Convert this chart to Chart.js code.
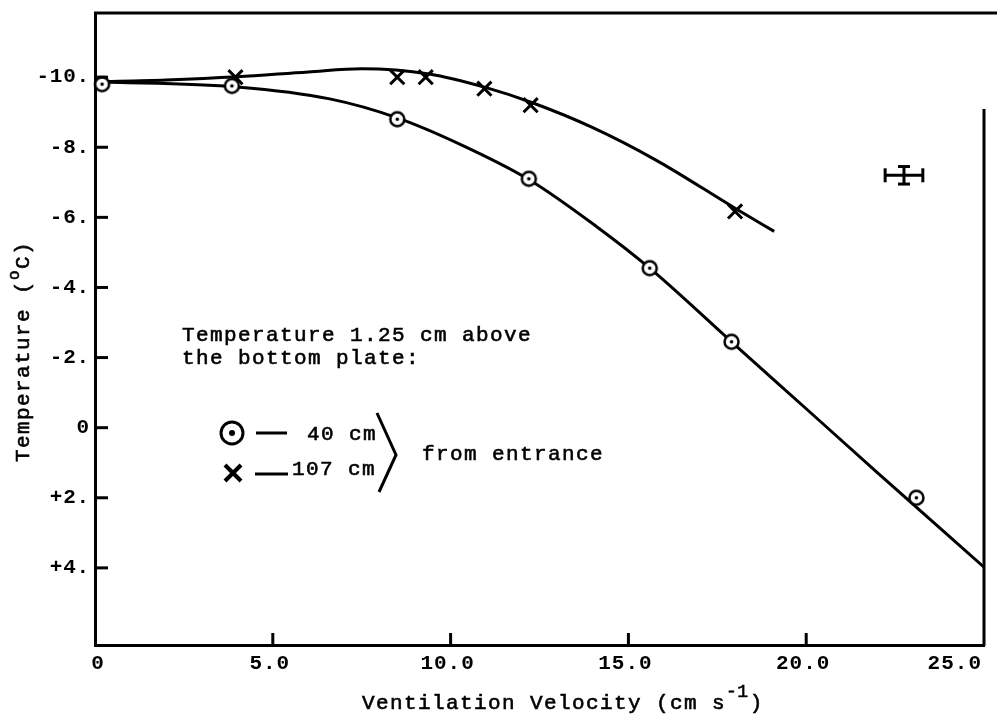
<!DOCTYPE html>
<html>
<head>
<meta charset="utf-8">
<script src="https://cdn.jsdelivr.net/npm/chart.js@4.4.1/dist/chart.umd.min.js"></script>
<style>
  html, body { margin: 0; padding: 0; background: #fff; }
</style>
</head>
<body>
<canvas id="Charts_Ventilation_Temperature" width="997" height="720"></canvas>
<script>
// measured points, 40 cm and 107 cm from entrance
var velocity40 = [0.2, 3.85, 8.5, 12.2, 15.6, 17.9, 23.1];
var temp40 = [-9.8, -9.75, -8.8, -7.1, -4.55, -2.45, 2.0];
var velocity107 = [3.95, 8.5, 9.3, 10.95, 12.25, 18.0];
var temp107 = [-10.0, -10.0, -10.0, -9.67, -9.2, -6.17];

// hand drawn fit curves
var fitVelocity40 = [0, 4, 6.6, 8.5, 10.3, 12.2, 14.1, 15.6, 17.9, 20, 22, 25];
var fitTemp40 = [-9.87, -9.72, -9.38, -8.84, -8.07, -7.08, -5.74, -4.55, -2.45, -0.54, 1.28, 3.98];
var fitVelocity107 = [0, 2, 4, 6, 7.5, 9.4, 11, 12.3, 14, 15.8, 18, 19.1];
var fitTemp107 = [-9.87, -9.92, -10.01, -10.15, -10.24, -10.09, -9.7, -9.27, -8.56, -7.62, -6.26, -5.6];

// error bar symbol
var errVelocity = 22.75, errTemp = -7.2, errVelocityHalf = 0.53, errTempHalf = 0.25;

var xTicks = [0, 5, 10, 15, 20, 25];
var xTickLabels = ['0', '5.0', '10.0', '15.0', '20.0', '25.0'];
var yTicks = [-10, -8, -6, -4, -2, 0, 2, 4];
var yTickLabels = ['-10.', '-8.', '-6.', '-4.', '-2.', '0', '+2.', '+4.'];

var FONT = '"Liberation Mono", "Courier New", monospace';
Chart.defaults.font.family = FONT;
Chart.defaults.color = '#000';

function zip(xs, ys) {
  return xs.map(function (x, i) { return { x: x, y: ys[i] }; });
}

// circle with a dot in the middle
function circleDot(r, lw, dotR) {
  var size = Math.ceil(2 * r + lw + 2);
  var c = document.createElement('canvas');
  c.width = size; c.height = size;
  var g = c.getContext('2d');
  g.beginPath(); g.arc(size / 2, size / 2, r, 0, Math.PI * 2);
  g.fillStyle = '#fff'; g.fill();
  g.lineWidth = lw; g.strokeStyle = '#000'; g.stroke();
  g.beginPath(); g.arc(size / 2, size / 2, dotR, 0, Math.PI * 2);
  g.fillStyle = '#000'; g.fill();
  return c;
}

function line(ctx, x1, y1, x2, y2) {
  ctx.beginPath(); ctx.moveTo(x1, y1); ctx.lineTo(x2, y2); ctx.stroke();
}

// typewriter text: fill plus a thin stroke so it reads a bit heavier
function typed(ctx, text, x, y) {
  ctx.fillText(text, x, y);
  ctx.lineWidth = 0.6;
  ctx.strokeText(text, x, y);
}

var paperPlugin = {
  id: 'paper',
  beforeDraw: function (chart) {
    chart.ctx.letterSpacing = '0.8px';
  },
  afterDraw: function (chart) {
    var ctx = chart.ctx, xs = chart.scales.x, ys = chart.scales.y, a = chart.chartArea;
    ctx.save();
    ctx.strokeStyle = '#000';
    ctx.fillStyle = '#000';
    ctx.lineWidth = 3;

    // top and right frame
    line(ctx, a.left - 1, a.top, chart.width, a.top);
    line(ctx, a.right, a.top + 96, a.right, a.bottom + 1);

    // inward tick marks
    yTicks.forEach(function (v) {
      var y = ys.getPixelForValue(v);
      line(ctx, a.left, y, a.left + 13, y);
    });
    xTicks.forEach(function (v) {
      if (v === xTicks[0] || v === xTicks[xTicks.length - 1]) return;
      var x = xs.getPixelForValue(v);
      line(ctx, x, a.bottom, x, a.bottom - 12);
    });

    // x tick labels
    ctx.font = 'bold 21px ' + FONT;
    ctx.letterSpacing = '1px';
    ctx.textBaseline = 'alphabetic';
    xTicks.forEach(function (v, i) {
      var x = xs.getPixelForValue(v);
      if (i === xTicks.length - 1) {
        ctx.textAlign = 'right';
        ctx.fillText(xTickLabels[i], a.right - 2, a.bottom + 24);
      } else {
        ctx.textAlign = 'center';
        ctx.fillText(xTickLabels[i], x + (i === 0 ? 3 : -3), a.bottom + 24);
      }
    });

    // x title with superscript
    ctx.textAlign = 'left';
    ctx.letterSpacing = '1.4px';
    ctx.font = '21px ' + FONT;
    var tx = 362, ty = 709;
    var t1 = 'Ventilation Velocity (cm s';
    typed(ctx, t1, tx, ty);
    tx += ctx.measureText(t1).width;
    ctx.font = '18px ' + FONT;
    ctx.letterSpacing = '0.5px';
    typed(ctx, '-1', tx, ty - 12);
    tx += ctx.measureText('-1').width + 1;
    ctx.font = '21px ' + FONT;
    typed(ctx, ')', tx, ty);

    // y title with superscript
    ctx.save();
    ctx.translate(29, 462);
    ctx.rotate(-Math.PI / 2);
    ctx.letterSpacing = '1.4px';
    ctx.font = '21px ' + FONT;
    var t2 = 'Temperature (';
    typed(ctx, t2, 0, 0);
    var w = ctx.measureText(t2).width;
    ctx.font = '16px ' + FONT;
    typed(ctx, 'o', w, -10);
    w += ctx.measureText('o').width;
    ctx.font = '21px ' + FONT;
    typed(ctx, 'C)', w, 0);
    ctx.restore();

    // error bar symbol
    var ex = xs.getPixelForValue(errVelocity), ey = ys.getPixelForValue(errTemp);
    var ex0 = xs.getPixelForValue(errVelocity - errVelocityHalf);
    var ex1 = xs.getPixelForValue(errVelocity + errVelocityHalf);
    var ey0 = ys.getPixelForValue(errTemp - errTempHalf);
    var ey1 = ys.getPixelForValue(errTemp + errTempHalf);
    ctx.lineWidth = 3;
    line(ctx, ex0, ey, ex1, ey);
    line(ctx, ex0, ey - 7, ex0, ey + 7);
    line(ctx, ex1, ey - 7, ex1, ey + 7);
    line(ctx, ex, ey0, ex, ey1);
    line(ctx, ex - 6, ey0, ex + 6, ey0);
    line(ctx, ex - 6, ey1, ex + 6, ey1);

    // key
    ctx.font = '21px ' + FONT;
    ctx.letterSpacing = '1.4px';
    ctx.textAlign = 'left';
    typed(ctx, 'Temperature 1.25 cm above', 182, 341);
    typed(ctx, 'the bottom plate:', 182, 364);

    ctx.lineWidth = 3;
    ctx.beginPath(); ctx.arc(232, 433, 11, 0, Math.PI * 2); ctx.stroke();
    ctx.beginPath(); ctx.arc(232, 433, 3, 0, Math.PI * 2); ctx.fill();
    line(ctx, 256, 433, 287, 433);
    typed(ctx, '40 cm', 307, 440);

    ctx.lineWidth = 4;
    line(ctx, 225, 465, 241, 481);
    line(ctx, 241, 465, 225, 481);
    ctx.lineWidth = 3;
    line(ctx, 255, 474, 288, 474);
    typed(ctx, '107 cm', 292, 475);

    ctx.lineWidth = 3;
    ctx.beginPath();
    ctx.moveTo(377, 413); ctx.lineTo(396, 455); ctx.lineTo(379, 492);
    ctx.stroke();
    typed(ctx, 'from entrance', 422, 460);

    ctx.restore();
  }
};

var ctx = document.getElementById('Charts_Ventilation_Temperature').getContext('2d');

new Chart(ctx, {
  type: 'scatter',
  data: {
    datasets: [
      {
        label: '40 cm',
        data: zip(velocity40, temp40),
        pointStyle: circleDot(7, 2.5, 1.8),
        pointRadius: 8,
        clip: false,
        order: 1
      },
      {
        label: '107 cm',
        data: zip(velocity107, temp107),
        pointStyle: 'crossRot',
        pointRadius: 10,
        borderColor: '#000',
        pointBorderWidth: 3,
        clip: false,
        order: 1
      },
      {
        label: 'fit 40 cm',
        data: zip(fitVelocity40, fitTemp40),
        showLine: true,
        pointRadius: 0,
        borderColor: '#000',
        borderWidth: 3,
        cubicInterpolationMode: 'monotone',
        order: 2
      },
      {
        label: 'fit 107 cm',
        data: zip(fitVelocity107, fitTemp107),
        showLine: true,
        pointRadius: 0,
        borderColor: '#000',
        borderWidth: 3,
        cubicInterpolationMode: 'monotone',
        order: 2
      }
    ]
  },
  options: {
    responsive: false,
    animation: false,
    devicePixelRatio: 1,
    layout: { padding: { left: 0, top: 11, right: 7, bottom: 0 } },
    plugins: {
      legend: { display: false },
      tooltip: { enabled: false }
    },
    scales: {
      x: {
        type: 'linear',
        min: 0,
        max: 25,
        grid: { display: false, drawTicks: false },
        border: { display: true, color: '#000', width: 3 },
        ticks: { display: false },
        afterFit: function (s) {
          s.height = 75;
          s.paddingLeft = 0; s.paddingRight = 0;
        }
      },
      y: {
        type: 'linear',
        reverse: true,
        min: -11.83,
        max: 6.2,
        grid: { display: false, drawTicks: false },
        border: { display: true, color: '#000', width: 3 },
        ticks: {
          color: '#000',
          padding: 5,
          font: { family: FONT, size: 21, weight: 'bold' },
          callback: function (value) {
            var i = yTicks.indexOf(value);
            return i >= 0 ? yTickLabels[i] : '';
          }
        },
        afterBuildTicks: function (s) {
          s.ticks = yTicks.map(function (v) { return { value: v }; });
        },
        afterFit: function (s) {
          s.width = 95;
          s.paddingTop = 0; s.paddingBottom = 0;
        }
      }
    }
  },
  plugins: [paperPlugin]
});
</script>
</body>
</html>
